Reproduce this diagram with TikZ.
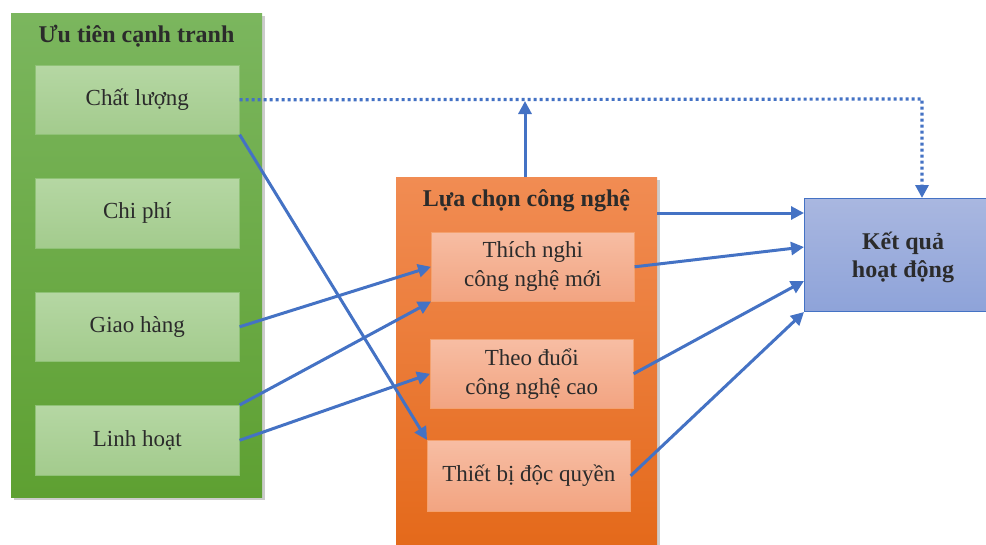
\documentclass[tikz,border=0pt]{standalone}
\usepackage{fontspec}
\setmainfont{Liberation Serif}
\usetikzlibrary{arrows.meta,shadows}
\definecolor{linkblue}{HTML}{4472C4}
\definecolor{txt}{HTML}{2B2B2B}
\begin{document}
\begin{tikzpicture}[x=1pt,y=-1pt,
  outerbox/.style={anchor=north west,inner sep=0pt,drop shadow={shadow xshift=3pt,shadow yshift=-3pt,opacity=.4}},
  greeninner/.style={anchor=north west,inner sep=0pt,top color=ginTop,bottom color=ginBot,draw=ginEdge,line width=.6pt,
    text=txt,font=\fontsize{23}{29}\selectfont,align=center},
  orangeinner/.style={anchor=north west,inner sep=0pt,top color=oinTop,bottom color=oinBot,draw=oinEdge,line width=.6pt,
    text=txt,font=\fontsize{23}{29}\selectfont,align=center},
  titletext/.style={text=txt,font=\fontsize{24}{28}\selectfont\bfseries},
  link/.style={draw=linkblue,line width=3pt,-{Triangle[length=13pt,width=13pt]}}
]
\definecolor{gouterTop}{HTML}{7BB65E}
\definecolor{gouterBot}{HTML}{5EA032}
\definecolor{ginTop}{HTML}{B5D7A3}
\definecolor{ginBot}{HTML}{A3CB8D}
\definecolor{ginEdge}{HTML}{8FC276}
\definecolor{oouterTop}{HTML}{F18C53}
\definecolor{oouterBot}{HTML}{E4691A}
\definecolor{oinTop}{HTML}{F7BDA3}
\definecolor{oinBot}{HTML}{F2A481}
\definecolor{oinEdge}{HTML}{F4A16E}
\definecolor{bTop}{HTML}{A9B7E0}
\definecolor{bBot}{HTML}{8EA3D9}

\useasboundingbox (0,0) rectangle (986,544);

% competitive priorities panel
\node[outerbox,top color=gouterTop,bottom color=gouterBot,minimum width=251pt,minimum height=484pt] (gp) at (11,13) {};
\node[titletext] (gt) at (136.5,36) {Ưu tiên cạnh tranh};
\node[greeninner,minimum width=204pt,minimum height=69pt] (q) at (35,65) {Chất lượng};
\node[greeninner,minimum width=204pt,minimum height=70pt] (c) at (35,178) {Chi phí};
\node[greeninner,minimum width=204pt,minimum height=69pt] (d) at (35,292) {Giao hàng};
\node[greeninner,minimum width=204pt,minimum height=70pt] (f) at (35,405) {Linh hoạt};

% technology choice panel
\node[outerbox,top color=oouterTop,bottom color=oouterBot,minimum width=261pt,minimum height=372pt] (op) at (396,177) {};
\node[titletext] (ot) at (526.5,201) {Lựa chọn công nghệ};
\node[orangeinner,minimum width=203pt,minimum height=69pt] (a) at (431,232) {Thích nghi\\công nghệ mới};
\node[orangeinner,minimum width=203pt,minimum height=69pt] (h) at (430,339) {Theo đuổi\\công nghệ cao};
\node[orangeinner,minimum width=203pt,minimum height=71pt] (e) at (427,440) {Thiết bị độc quyền};

% performance box
\node[anchor=north west,inner sep=0pt,top color=bTop,bottom color=bBot,draw=linkblue,line width=1pt,
  minimum width=190pt,minimum height=113pt] (r) at (804,198) {};
\node[titletext,align=center,font=\fontsize{24}{28}\selectfont\bfseries] (rt) at (903,257) {Kết quả\\hoạt động};

% connectors
\coordinate (corner) at (922,99);
\draw[linkblue,line width=3.2pt,dash pattern=on 3pt off 3pt,-{Triangle[length=13pt,width=13pt]}]
  (q.east) -- (corner) -- (r.north -| corner);
\draw[link] (op.north -| 525,0) -- (525,101);
\draw[link] (op.east |- 0,213) -- (r.west |- 0,213);
\draw[link] (a.east) -- (r.west |- 0,247);
\draw[link] (h.east) -- (r.west |- 0,281);
\draw[link] (e.east) -- (r.south west);
\draw[link] (q.south east) -- (e.north west);
\draw[link] (d.east) -- (a.west);
\draw[link] (f.north east) -- (a.south west);
\draw[link] (f.east) -- (h.west);
\end{tikzpicture}
\end{document}
